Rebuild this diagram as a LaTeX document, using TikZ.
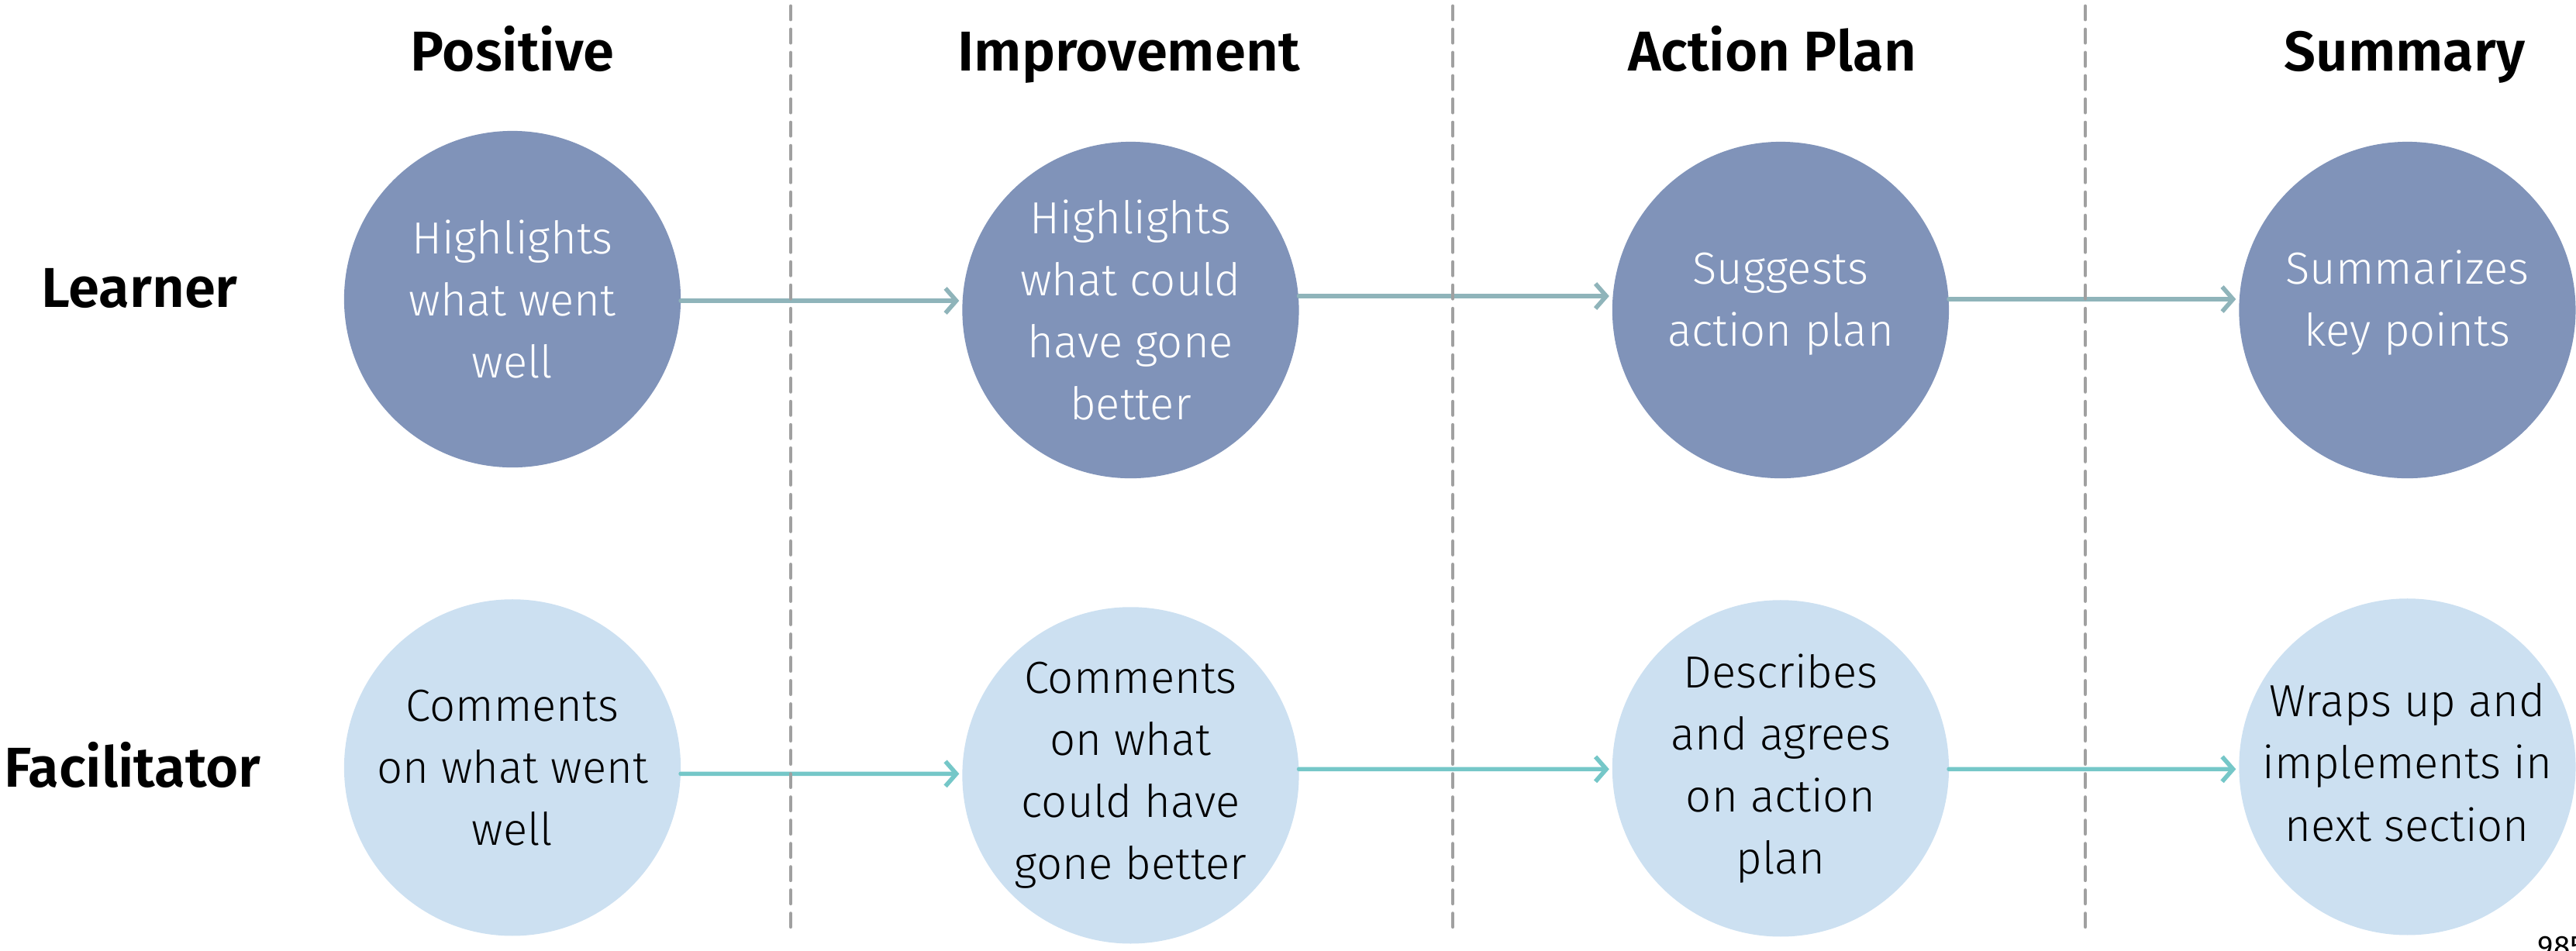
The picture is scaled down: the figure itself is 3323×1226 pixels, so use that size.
\documentclass[tikz,border=0pt]{standalone}
\usepackage{fontspec}
\setmainfont{Fira Sans}
\IfFontExistsTF{Fira Sans Light}{\newfontfamily\circfont{Fira Sans Light}}{\newcommand\circfont{\normalfont}}
\IfFontExistsTF{Fira Sans SemiBold}{\newfontfamily\headfont{Fira Sans SemiBold}}{\newcommand\headfont{\bfseries}}
\usetikzlibrary{arrows.meta,positioning}

\definecolor{learnblue}{RGB}{128,147,185}
\definecolor{facblue}{RGB}{204,224,241}
\definecolor{learnteal}{RGB}{143,180,186}
\definecolor{facteal}{RGB}{117,199,200}
\definecolor{divgray}{RGB}{160,160,160}

\begin{document}
\begin{tikzpicture}[
      x=0.01cm, y=-0.01cm,
      learner/.style={circle, fill=learnblue, text=white, minimum size=4.34cm,
          inner sep=0pt, outer sep=0pt, align=center,
          font=\circfont\fontsize{16.5}{22.8}\selectfont},
      facil/.style={circle, fill=facblue, text=black, minimum size=4.34cm,
          inner sep=0pt, outer sep=0pt, align=center,
          font=\circfont\fontsize{16.5}{22.8}\selectfont},
      colhead/.style={anchor=base, inner sep=0pt, font=\headfont\fontsize{20.6}{24}\selectfont},
      learnflow/.style={-{Straight Barb[length=1.4mm, width=3.2mm]}, line width=1.6pt,
          draw=learnteal, line cap=round, shorten >=0.04cm},
      facflow/.style={-{Straight Barb[length=1.4mm, width=3.2mm]}, line width=1.6pt,
          draw=facteal, line cap=round, shorten >=0.04cm},
      divider/.style={draw=divgray, line width=1.4pt, line cap=round,
          dash pattern=on 0.17cm off 0.13cm}
  ]
  \useasboundingbox (0,0) rectangle (3323,1226);

  % column and row headings
  \node[colhead] (hpos) at (661,91)  {Positive};
  \node[colhead] (himp) at (1456,91) {Improvement};
  \node[colhead] (hact) at (2286,91) {Action Plan};
  \node[colhead] (hsum) at (3102,91) {Summary};
  \node[colhead] (rlearn) at (180,396)  {Learner};
  \node[colhead] (rfac)   at (171,1015) {Facilitator};

  % learner row
  \node[learner] (l1) at (661,386) {Highlights\\what went\\well};
  \node[learner, right=3.63cm of l1, yshift=-0.14cm] (l2) {Highlights\\what could\\have gone\\better};
  \node[learner, right=4.04cm of l2, text depth=0.28cm] (l3) {Suggests\\action plan};
  \node[learner, right=3.74cm of l3, text depth=0.30cm] (l4) {Summarizes\\key points};

  % facilitator row
  \node[facil, below=1.70cm of l1] (f1) {Comments\\on what went\\well};
  \node[facil, below=1.66cm of l2] (f2) {Comments\\on what\\could have\\gone better};
  \node[facil, below=1.57cm of l3] (f3) {Describes\\and agrees\\on action\\plan};
  \node[facil, below=1.55cm of l4, text depth=0.12cm] (f4) {Wraps up and\\implements in\\next section};

  \draw[learnflow] ([yshift=-0.02cm]l1.east) -- ([yshift=0.12cm]l2.west);
  \draw[learnflow] ([yshift=0.18cm]l2.east)  -- ([yshift=0.18cm]l3.west);
  \draw[learnflow] ([yshift=0.14cm]l3.east)  -- ([yshift=0.14cm]l4.west);

  \draw[facflow] ([yshift=-0.08cm]f1.east) -- ([yshift=0.02cm]f2.west);
  \draw[facflow] ([yshift=0.08cm]f2.east)  -- ([yshift=-0.01cm]f3.west);
  \draw[facflow] ([yshift=-0.01cm]f3.east) -- ([yshift=-0.03cm]f4.west);

  % dividers between phases
  \draw[divider] (1020,8) -- (1020,1199);
  \draw[divider] (1874,8) -- (1874,1199);
  \draw[divider] (2690,8) -- (2690,1199);

  \node[anchor=base west, inner sep=0pt, font=\fontsize{11}{13}\selectfont] (pnum) at (3273,1234) {985};
\end{tikzpicture}
\end{document}
